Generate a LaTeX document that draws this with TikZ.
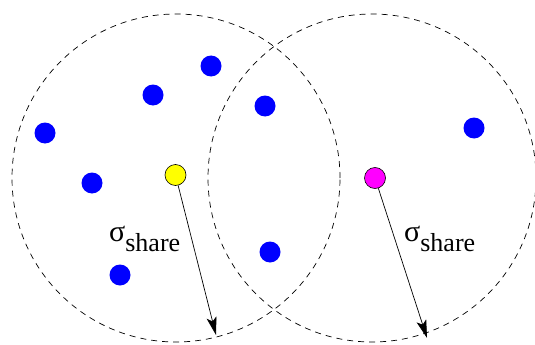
\documentclass[tikz,border=0pt]{standalone}
\usepackage{fontspec}
\setmainfont{Liberation Serif}
\usetikzlibrary{arrows.meta}
\definecolor{dotblue}{RGB}{0,0,255}
\definecolor{dotmag}{RGB}{255,0,255}
\definecolor{dotyel}{RGB}{255,255,0}
\begin{document}
\begin{tikzpicture}[x=1pt,y=-1pt,
  zone/.style={circle,draw,line width=0.7pt,dash pattern=on 6pt off 5pt,minimum size=328pt,inner sep=0pt},
  bdot/.style={circle,fill=dotblue,minimum size=21pt,inner sep=0pt},
  cdot/.style={circle,draw,line width=0.6pt,minimum size=21pt,inner sep=0pt},
  radius arrow/.style={line width=0.7pt,-{Stealth[length=18pt,width=10pt,inset=4pt]}},
  lab/.style={inner sep=0pt,anchor=base west}]
\useasboundingbox (0,0) rectangle (535,345);
\node[zone] (L) at (176,178) {};
\node[zone] (R) at (372,178) {};
\node[bdot] (b1) at (211,66) {};
\node[bdot] (b2) at (153,95) {};
\node[bdot] (b3) at (265,106) {};
\node[bdot] (b4) at (45,133) {};
\node[bdot] (b5) at (92,183) {};
\node[bdot] (b6) at (120,275) {};
\node[bdot] (b7) at (270,252) {};
\node[bdot] (b8) at (474,128) {};
\node[cdot,fill=dotyel] (Y) at (175.5,175) {};
\node[cdot,fill=dotmag] (M) at (375,178) {};
\coordinate (YT) at (216,335);
\coordinate (MT) at (427,338);
\draw[radius arrow] (Y) -- (YT);
\draw[radius arrow] (M) -- (MT);
\node[lab] (sl) at (109,241) {\fontsize{30}{30}\selectfont σ\raisebox{-10pt}{\fontsize{26}{26}\selectfont share}};
\node[lab] (sr) at (404,241) {\fontsize{30}{30}\selectfont σ\raisebox{-10pt}{\fontsize{26}{26}\selectfont share}};
\end{tikzpicture}
\end{document}
